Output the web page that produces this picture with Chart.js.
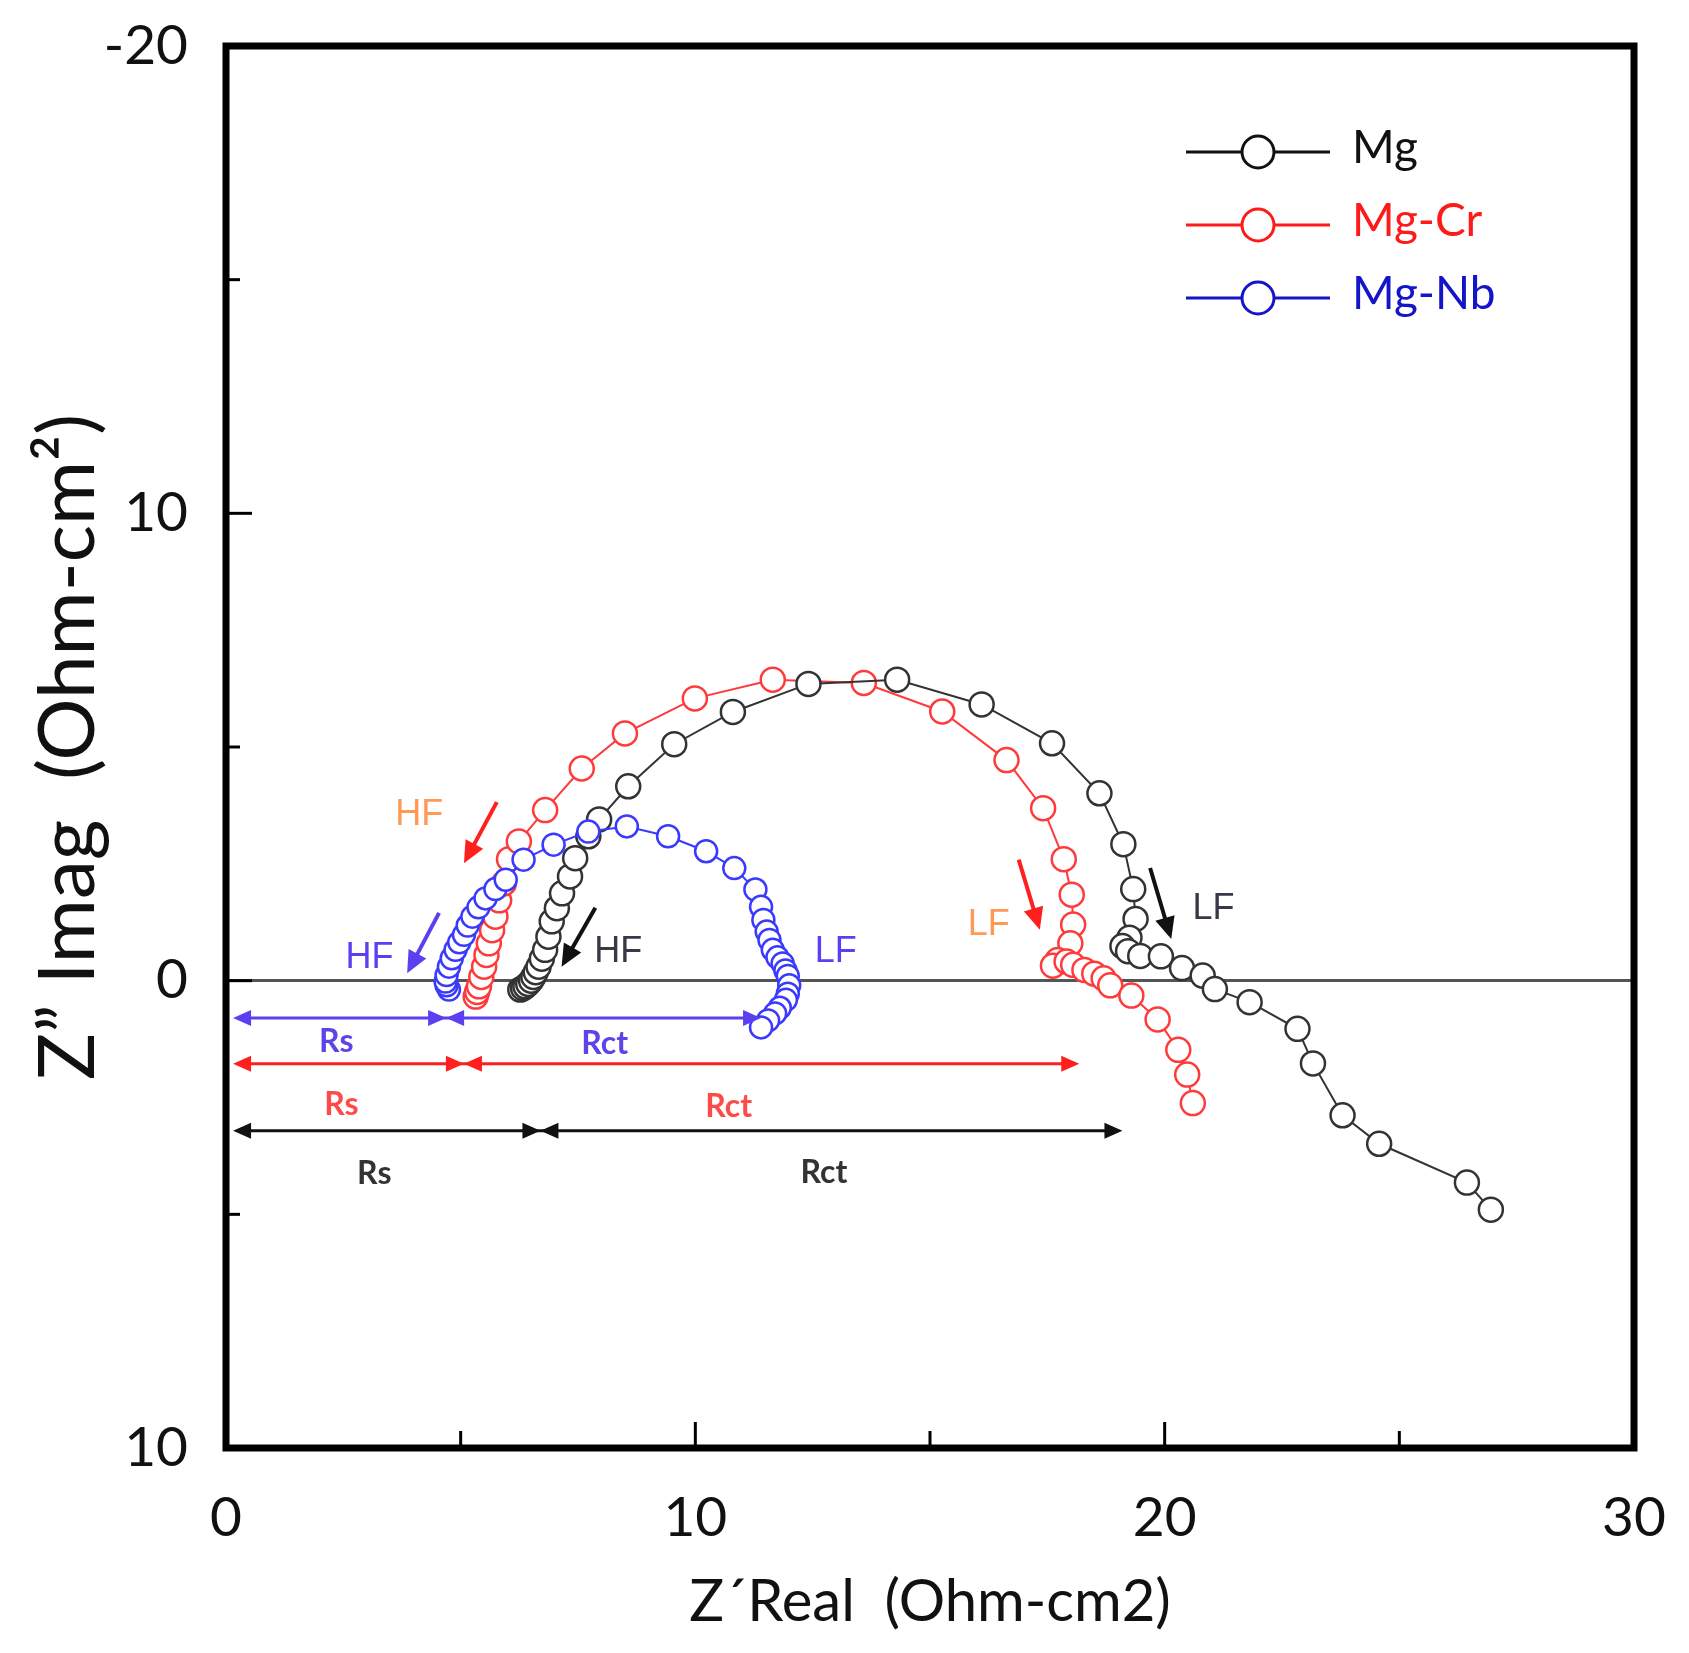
<!DOCTYPE html>
<html>
<head>
<meta charset="utf-8">
<script src="https://cdn.jsdelivr.net/npm/chart.js@4.4.0/dist/chart.umd.min.js"></script>
<style>
  html, body { margin: 0; padding: 0; background: #fff; }
  #wrap { width: 1689px; height: 1653px; }
</style>
</head>
<body>
<div id="wrap"><canvas id="nyquist" width="1689" height="1653"></canvas></div>
<script>
// Nyquist data, [Z' real, Z'' imag] in Ohm-cm2 (HF -> LF)
const mgPoints = [
  [6.27, 0.19], [6.33, 0.16], [6.38, 0.12], [6.44, 0.07], [6.50, 0.00], [6.55, -0.08],
  [6.60, -0.18], [6.66, -0.30], [6.73, -0.47], [6.80, -0.66], [6.87, -0.94], [6.94, -1.27],
  [7.05, -1.55], [7.16, -1.87], [7.33, -2.23], [7.44, -2.62], [7.72, -3.09], [7.95, -3.45],
  [8.57, -4.16], [9.55, -5.06], [10.80, -5.75], [12.41, -6.35], [14.30, -6.44], [16.10, -5.91],
  [17.60, -5.08], [18.61, -4.01], [19.12, -2.92], [19.33, -1.96], [19.38, -1.32], [19.25, -0.92],
  [19.10, -0.74], [19.22, -0.63], [19.48, -0.53], [19.92, -0.52], [20.37, -0.27], [20.81, -0.11],
  [21.07, 0.18], [21.81, 0.46], [22.83, 1.03], [23.16, 1.77], [23.79, 2.88], [24.57, 3.49],
  [26.44, 4.32], [26.95, 4.90]
];
const mgCrPoints = [
  [5.32, 0.34], [5.35, 0.24], [5.39, 0.12], [5.44, -0.08], [5.50, -0.30], [5.55, -0.55],
  [5.60, -0.80], [5.67, -1.08], [5.74, -1.37], [5.82, -1.72], [5.92, -2.08], [6.03, -2.60],
  [6.24, -2.98], [6.80, -3.65], [7.58, -4.54], [8.50, -5.29], [9.99, -6.04], [11.65, -6.44],
  [13.59, -6.37], [15.26, -5.76], [16.63, -4.72], [17.41, -3.69], [17.85, -2.60], [18.02, -1.84],
  [18.05, -1.20], [17.99, -0.80], [17.72, -0.44], [17.62, -0.32], [17.91, -0.41], [18.05, -0.34],
  [18.29, -0.23], [18.50, -0.15], [18.70, -0.05], [18.84, 0.10], [19.29, 0.32], [19.85, 0.83],
  [20.29, 1.48], [20.48, 2.01], [20.60, 2.62]
];
const mgNbPoints = [
  [4.75, 0.19], [4.70, 0.10], [4.68, 0.02], [4.70, -0.12], [4.75, -0.30], [4.81, -0.48],
  [4.89, -0.66], [4.97, -0.82], [5.07, -0.98], [5.15, -1.18], [5.25, -1.37], [5.38, -1.57],
  [5.53, -1.76], [5.74, -1.96], [5.96, -2.16], [6.34, -2.59], [6.98, -2.91], [7.72, -3.19],
  [8.54, -3.30], [9.42, -3.09], [10.23, -2.77], [10.83, -2.41], [11.28, -1.95], [11.40, -1.58],
  [11.45, -1.30], [11.52, -1.05], [11.58, -0.87], [11.65, -0.66], [11.75, -0.50], [11.86, -0.37],
  [11.92, -0.22], [11.97, -0.10], [12.00, 0.10], [11.97, 0.28], [11.93, 0.41], [11.80, 0.58],
  [11.70, 0.70], [11.55, 0.85], [11.40, 1.00]
];

const seriesNames = ['Mg', 'Mg-Cr', 'Mg-Nb'];

const xTickValues = [0, 5, 10, 15, 20, 25, 30];
const xTickLabels = ['0', '', '10', '', '20', '', '30'];
const yTickValues = [-20, -15, -10, -5, 0, 5, 10];
const yTickLabels = ['-20', '', '10', '', '0', '', '10'];

// annotations per series (Mg, Mg-Cr, Mg-Nb), in axis units
// Rs / Rct dimension lines: [y, start, split, end]
const rsRctLines = [[3.21, 0.15, 6.70, 19.10], [1.78, 0.15, 5.07, 18.18], [0.80, 0.15, 4.69, 11.40]];
const rsLabelAt = [[3.16, 4.12], [2.46, 2.66], [2.35, 1.31]];
const rctLabelAt = [[12.74, 4.11], [10.71, 2.70], [8.07, 1.35]];
const hfLabelAt = [[8.36, -0.61], [4.12, -3.54], [3.06, -0.49]];
const hfArrows = [[7.87, -1.56, 7.15, -0.30], [5.77, -3.82, 5.07, -2.51], [4.54, -1.45, 3.86, -0.16]];
const lfLabelAt = [[21.04, -1.54], [16.25, -1.19], [12.99, -0.61]];
const lfArrows = [[19.69, -2.41, 20.14, -0.89], [16.89, -2.59, 17.34, -1.09], null];

// colours
const lineColors = ['#333333', '#ff3a3a', '#3a3aff'];
const markColors = ['#111111', '#ff1f1f', '#5b3ff0'];
const rsTextColors = ['#333333', '#ff4a4a', '#5b45e8'];
const freqTextColors = ['#383846', '#ff9a55', '#5b3ff0'];
const legendColors = ['#111111', '#ff1a1a', '#1414c8'];

function toSet(i, pts, radius, order) {
  return {
    label: seriesNames[i],
    data: pts.map(p => ({ x: p[0], y: p[1] })),
    showLine: true,
    borderColor: lineColors[i],
    borderWidth: 2,
    pointRadius: radius,
    pointBorderWidth: 2.5,
    pointBorderColor: lineColors[i],
    pointBackgroundColor: '#ffffff',
    order: order
  };
}

function arrowHead(ctx, tx, ty, dx, dy, len, half) {
  const bx = tx - dx * len, by = ty - dy * len;
  ctx.beginPath();
  ctx.moveTo(tx, ty);
  ctx.lineTo(bx - dy * half, by + dx * half);
  ctx.lineTo(bx + dy * half, by - dx * half);
  ctx.closePath();
  ctx.fill();
}

function arrow(ctx, x0, y0, x1, y1, width, len, half) {
  const d = Math.hypot(x1 - x0, y1 - y0);
  const dx = (x1 - x0) / d, dy = (y1 - y0) / d;
  ctx.lineWidth = width;
  ctx.beginPath();
  ctx.moveTo(x0, y0);
  ctx.lineTo(x1 - dx * len * 0.8, y1 - dy * len * 0.8);
  ctx.stroke();
  arrowHead(ctx, x1, y1, dx, dy, len, half);
}

const decor = {
  id: 'decor',
  afterDatasetsDraw(chart) {
    const { ctx, scales: { x, y } } = chart;
    ctx.save();
    ctx.textAlign = 'center';
    ctx.textBaseline = 'middle';
    for (let i = 0; i < 3; i++) {
      const c = markColors[i];
      ctx.strokeStyle = c;
      ctx.fillStyle = c;

      // Rs / Rct double arrows
      const [ly, a, s, e] = rsRctLines[i];
      const py = y.getPixelForValue(ly);
      const pa = x.getPixelForValue(a), ps = x.getPixelForValue(s), pe = x.getPixelForValue(e);
      ctx.lineWidth = 3;
      ctx.beginPath();
      ctx.moveTo(pa + 10, py);
      ctx.lineTo(pe - 10, py);
      ctx.stroke();
      arrowHead(ctx, pa, py, -1, 0, 18, 8);
      arrowHead(ctx, ps, py, 1, 0, 18, 8);
      arrowHead(ctx, ps, py, -1, 0, 18, 8);
      arrowHead(ctx, pe, py, 1, 0, 18, 8);

      ctx.fillStyle = rsTextColors[i];
      ctx.font = 'bold 32px Lato';
      ctx.fillText('Rs', x.getPixelForValue(rsLabelAt[i][0]), y.getPixelForValue(rsLabelAt[i][1]));
      ctx.fillText('Rct', x.getPixelForValue(rctLabelAt[i][0]), y.getPixelForValue(rctLabelAt[i][1]));

      // HF / LF arrows and labels
      ctx.fillStyle = c;
      const h = hfArrows[i];
      arrow(ctx, x.getPixelForValue(h[0]), y.getPixelForValue(h[1]),
        x.getPixelForValue(h[2]), y.getPixelForValue(h[3]), 4, 22, 10);
      const l = lfArrows[i];
      if (l) {
        arrow(ctx, x.getPixelForValue(l[0]), y.getPixelForValue(l[1]),
          x.getPixelForValue(l[2]), y.getPixelForValue(l[3]), 4, 22, 10);
      }
      ctx.fillStyle = freqTextColors[i];
      ctx.font = '36px "Liberation Sans"';
      ctx.fillText('HF', x.getPixelForValue(hfLabelAt[i][0]), y.getPixelForValue(hfLabelAt[i][1]));
      ctx.fillText('LF', x.getPixelForValue(lfLabelAt[i][0]), y.getPixelForValue(lfLabelAt[i][1]));
    }

    // legend in the upper right of the plot
    const rows = [152, 225, 298];
    chart.data.datasets.forEach((ds, i) => {
      const ry = rows[i];
      ctx.strokeStyle = legendColors[i];
      ctx.lineWidth = 3;
      ctx.beginPath();
      ctx.moveTo(1186, ry);
      ctx.lineTo(1330, ry);
      ctx.stroke();
      ctx.beginPath();
      ctx.arc(1258, ry, 16, 0, Math.PI * 2);
      ctx.fillStyle = '#fff';
      ctx.fill();
      ctx.stroke();
      ctx.fillStyle = legendColors[i];
      ctx.font = '46px Lato';
      ctx.textAlign = 'left';
      ctx.textBaseline = 'alphabetic';
      ctx.fillText(ds.label, 1352, ry + 11);
    });
    ctx.restore();
  },
  afterDraw(chart) {
    const { ctx, chartArea: a, scales: { x, y } } = chart;
    ctx.save();
    ctx.strokeStyle = '#000';
    // inward tick marks
    ctx.lineWidth = 3;
    xTickValues.forEach((v, i) => {
      if (v === 0 || v === 30) return;
      const px = x.getPixelForValue(v);
      const len = xTickLabels[i] ? 26 : 17;
      ctx.beginPath();
      ctx.moveTo(px, a.bottom);
      ctx.lineTo(px, a.bottom - len);
      ctx.stroke();
    });
    yTickValues.forEach((v, i) => {
      if (v === -20 || v === 10) return;
      const py = y.getPixelForValue(v);
      const len = yTickLabels[i] ? 26 : 14;
      ctx.beginPath();
      ctx.moveTo(a.left, py);
      ctx.lineTo(a.left + len, py);
      ctx.stroke();
    });
    // frame
    ctx.lineWidth = 7;
    ctx.strokeRect(a.left, a.top, a.right - a.left, a.bottom - a.top);
    ctx.restore();
  }
};

new Chart(document.getElementById('nyquist'), {
  type: 'scatter',
  data: {
    datasets: [
      toSet(0, mgPoints, 12, 1),
      toSet(1, mgCrPoints, 12, 2),
      toSet(2, mgNbPoints, 11, 0)
    ]
  },
  options: {
    responsive: false,
    devicePixelRatio: 1,
    animation: false,
    layout: { padding: { top: 46, right: 55, left: 0, bottom: 0 } },
    plugins: { legend: { display: false }, tooltip: { enabled: false } },
    scales: {
      x: {
        type: 'linear',
        min: 0,
        max: 30,
        afterFit: s => { s.height = 205; s.paddingLeft = 0; s.paddingRight = 0; },
        ticks: {
          stepSize: 5,
          autoSkip: false,
          maxRotation: 0,
          padding: 37,
          color: '#111',
          font: { family: 'Lato', size: 55 },
          callback: v => xTickLabels[xTickValues.indexOf(v)]
        },
        grid: { drawOnChartArea: false, drawTicks: false },
        border: { display: false },
        title: {
          display: true,
          text: 'Z\u00b4Real  (Ohm-cm2)',
          color: '#111',
          font: { family: 'Lato', size: 58 },
          padding: { top: 0, bottom: 16 }
        }
      },
      y: {
        type: 'linear',
        min: -20,
        max: 10,
        reverse: true,
        afterFit: s => { s.width = 226; s.paddingTop = 0; s.paddingBottom = 0; },
        ticks: {
          stepSize: 5,
          autoSkip: false,
          padding: 38,
          color: '#111',
          font: { family: 'Lato', size: 55 },
          callback: v => yTickLabels[yTickValues.indexOf(v)]
        },
        grid: {
          drawTicks: false,
          lineWidth: 3,
          color: c => (c.tick && c.tick.value === 0 ? '#555555' : 'rgba(0,0,0,0)')
        },
        border: { display: false },
        title: {
          display: true,
          text: 'Z\u201d Imag  (Ohm-cm\u00b2)',
          color: '#111',
          font: { family: 'Lato', size: 78 },
          padding: { top: 22, bottom: 0 }
        }
      }
    }
  },
  plugins: [decor]
});
</script>
</body>
</html>
